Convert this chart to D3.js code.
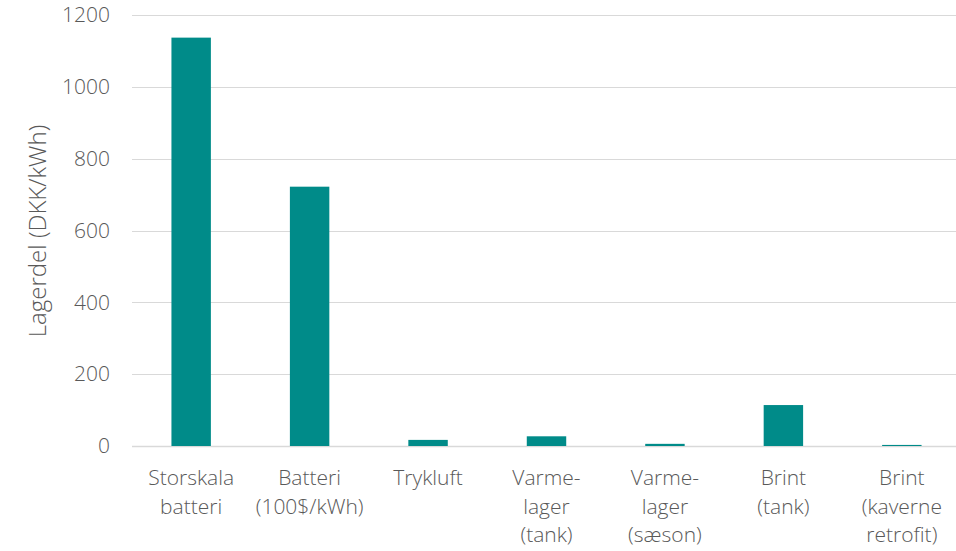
<!DOCTYPE html>
<html>
<head>
<meta charset="utf-8">
<script src="https://cdn.jsdelivr.net/npm/d3@7"></script>
<style>
  html, body { margin: 0; padding: 0; background: #fff; }
  svg { display: block; }
  text { font-family: "Open Sans", sans-serif; font-weight: 300; fill: #595959; }
</style>
</head>
<body>
<svg id="chart" width="956" height="551"></svg>
<script>
// Storage-part cost per technology (DKK/kWh)
const categories = [
  ["Storskala", "batteri"],
  ["Batteri", "(100$/kWh)"],
  ["Trykluft"],
  ["Varme-", "lager", "(tank)"],
  ["Varme-", "lager", "(sæson)"],
  ["Brint", "(tank)"],
  ["Brint", "(kaverne", "retrofit)"]
];
const values = [1137, 722, 17, 27, 6, 114, 3];
const yTicks = [0, 200, 400, 600, 800, 1000, 1200];
const yTitle = "Lagerdel (DKK/kWh)";

const svg = d3.select("#chart");
const keys = categories.map((c, i) => i);

const x = d3.scaleBand()
  .domain(keys)
  .range([132, 961])
  .paddingInner(0.667)
  .paddingOuter(0.333);

const y = d3.scaleLinear()
  .domain([0, 1200])
  .range([446, 15]);

// Horizontal gridlines
svg.append("g")
  .selectAll("line")
  .data(yTicks)
  .join("line")
  .attr("x1", 132).attr("x2", 956)
  .attr("y1", d => Math.round(y(d)) + 0.5)
  .attr("y2", d => Math.round(y(d)) + 0.5)
  .attr("stroke", "#d9d9d9")
  .attr("stroke-width", d => d === 0 ? 1.5 : 1);

// Y tick labels
const yAxis = d3.axisLeft(y).tickValues(yTicks).tickFormat(d3.format("d")).tickSize(0).tickPadding(0);
const gy = svg.append("g").attr("transform", "translate(110,0)").call(yAxis);
gy.select(".domain").remove();
gy.selectAll("text")
  .attr("font-size", 21)
  .attr("font-family", "'Open Sans', sans-serif")
  .attr("font-weight", 300)
  .attr("fill", "#595959");

// Bars
svg.append("g")
  .selectAll("rect")
  .data(values)
  .join("rect")
  .attr("x", (d, i) => x(i))
  .attr("width", x.bandwidth())
  .attr("y", d => y(d))
  .attr("height", d => y(0) - y(d))
  .attr("fill", "#008b89");

// Category labels (multi-line)
const lab = svg.append("g")
  .selectAll("text")
  .data(categories)
  .join("text")
  .attr("text-anchor", "middle")
  .attr("font-size", 21)
  .attr("x", (d, i) => x(i) + x.bandwidth() / 2)
  .attr("y", 485);
lab.selectAll("tspan")
  .data((d, i) => d.map(s => ({ s, i })))
  .join("tspan")
  .attr("x", d => x(d.i) + x.bandwidth() / 2)
  .attr("dy", (d, j) => j === 0 ? 0 : 28.7)
  .text(d => d.s);

// Y axis title
svg.append("text")
  .attr("transform", "translate(46,231) rotate(-90)")
  .attr("text-anchor", "middle")
  .attr("font-size", 24)
  .text(yTitle);
</script>
</body>
</html>
